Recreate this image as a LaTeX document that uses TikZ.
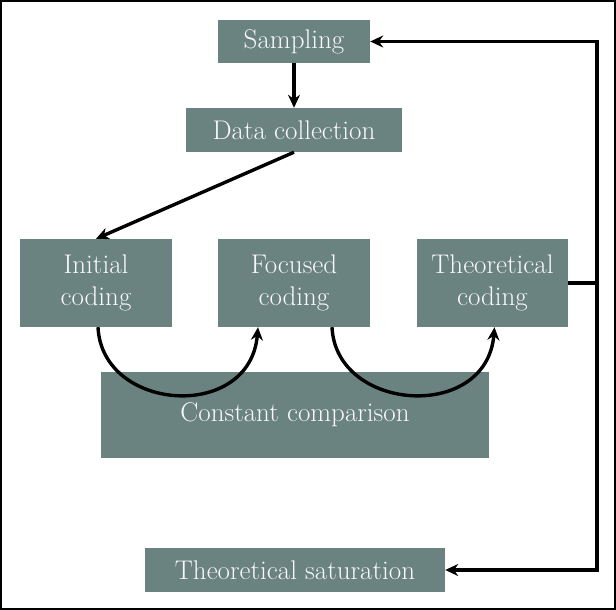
\documentclass[tikz,border=0pt]{standalone}
\usetikzlibrary{arrows.meta}
\definecolor{boxfill}{RGB}{106,131,128}
\definecolor{boxtext}{RGB}{248,248,248}
\begin{document}
\begin{tikzpicture}[x=1pt,y=-1pt,
  box/.style={fill=boxfill, draw=none, text=boxtext, inner sep=0pt,
    font=\fontsize{27}{32}\selectfont, align=center},
  conn/.style={line width=3.4pt, line join=miter, -{Stealth[length=13pt,width=12pt]}},
  plain/.style={line width=3.4pt, line join=miter}]
\useasboundingbox (0,0) rectangle (616,610);
\draw[line width=2.4pt] (1.2,1.2) rectangle (614.8,608.8);

\node[box, minimum width=152pt, minimum height=43pt] (samp) at (294,41.5) {Sampling};
\node[box, minimum width=216pt, minimum height=44pt] (data) at (294,130) {Data collection};
\node[box, minimum width=152pt, minimum height=88pt] (init) at (96,283) {Initial\\coding};
\node[box, minimum width=152pt, minimum height=88pt] (foc) at (294,283) {Focused\\coding};
\node[box, minimum width=151pt, minimum height=88pt] (theo) at (492.5,283) {Theoretical\\coding};
\node[box, minimum width=388pt, minimum height=86pt] (cons) at (295,415) {Constant comparison};
\node[box, minimum width=300pt, minimum height=44pt] (sat) at (295,570) {Theoretical saturation};

\coordinate (rt) at (597,41.5);
\coordinate (rb) at (597,570);

\draw[conn] (samp) -- (data);
\draw[conn] (data.south) -- (init.north);

\draw[conn] ([xshift=2pt]init.south) .. controls +(4,85) and +(-8,95) .. ([xshift=-36pt]foc.south);
\draw[conn] ([xshift=38pt]foc.south) .. controls +(4,85) and +(-8,95) .. ([xshift=2pt]theo.south);

\draw[plain] (theo.east) -- (theo.east -| rt);
\draw[conn] (theo.east -| rt) -- (rt) -- (samp.east);
\draw[conn] (theo.east -| rt) -- (rb) -- (sat.east);
\end{tikzpicture}
\end{document}
